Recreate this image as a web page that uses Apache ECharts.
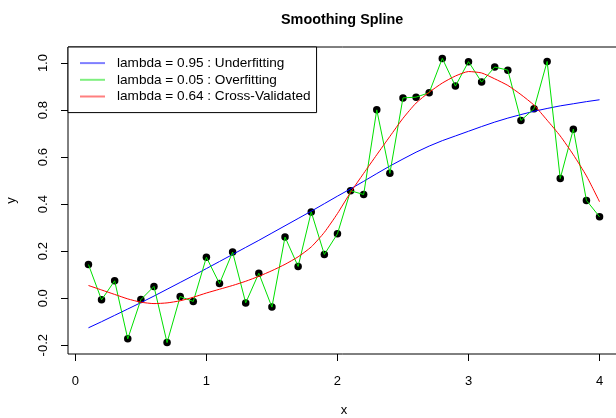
<!DOCTYPE html>
<html>
<head>
<meta charset="utf-8">
<script src="https://cdn.jsdelivr.net/npm/echarts@6/dist/echarts.min.js"></script>
<style>html,body{margin:0;padding:0;background:#fff;}#c{width:616px;height:418px;}</style>
</head>
<body>
<div id="c"></div>
<script>
const xs = [0.1,0.2,0.3,0.4,0.5,0.6,0.7,0.8,0.9,1.0,1.1,1.2,1.3,1.4,1.5,1.6,1.7,1.8,1.9,2.0,
            2.1,2.2,2.3,2.4,2.5,2.6,2.7,2.8,2.9,3.0,3.1,3.2,3.3,3.4,3.5,3.6,3.7,3.8,3.9,4.0];
const yObs = [0.143,-0.007,0.074,-0.173,-0.006,0.050,-0.189,0.007,-0.014,0.174,
              0.062,0.196,-0.020,0.106,-0.038,0.260,0.135,0.367,0.186,0.274,
              0.457,0.441,0.801,0.531,0.852,0.855,0.874,1.020,0.902,1.006,
              0.919,0.983,0.970,0.756,0.806,1.007,0.509,0.719,0.416,0.346];
const yUnder = [-0.126,-0.100,-0.073,-0.046,-0.019,0.009,0.038,0.067,0.096,0.126,
                0.156,0.186,0.216,0.246,0.277,0.308,0.339,0.370,0.402,0.434,
                0.465,0.497,0.530,0.562,0.592,0.621,0.647,0.670,0.690,0.710,
                0.730,0.749,0.766,0.781,0.795,0.807,0.818,0.827,0.836,0.844];
const yOver = yObs;
const yCV = [0.054,0.035,0.016,-0.003,-0.017,-0.023,-0.020,-0.011,0.004,0.022,
             0.038,0.054,0.072,0.093,0.117,0.144,0.176,0.218,0.280,0.360,
             0.450,0.531,0.610,0.688,0.765,0.830,0.876,0.915,0.945,0.964,
             0.958,0.933,0.905,0.866,0.821,0.757,0.690,0.610,0.520,0.410];
const xTicks = [0,1,2,3,4];
const yTicks = [-0.2,0,0.2,0.4,0.6,0.8,1.0];
const names = ['lambda = 0.95 : Underfitting','lambda = 0.05 : Overfitting','lambda = 0.64 : Cross-Validated'];
const title = 'Smoothing Spline';

const pairs = ys => xs.map((x,i)=>[x, ys[i]]);
const FONT = 'Liberation Sans, Arial, sans-serif';
const chart = echarts.init(document.getElementById('c'), null, {renderer:'canvas'});
chart.setOption({
  animation:false,
  backgroundColor:'#fff',
  title:{text:title, left:276, top:8, textStyle:{fontFamily:FONT, fontSize:14.4, fontWeight:'bold', color:'#000'}},
  grid:{left:68, top:47, width:552, height:307, show:true, borderColor:'#000', borderWidth:1,
        backgroundColor:'transparent', containLabel:false, outerBoundsMode:'none'},
  legend:{
    data:[
      {name:names[0], itemStyle:{color:'#7f7fff'}},
      {name:names[1], itemStyle:{color:'#7fef7f'}},
      {name:names[2], itemStyle:{color:'#ff7f7f'}}
    ],
    orient:'vertical', left:68, top:47, icon:'rect', itemWidth:25, itemHeight:2, itemGap:0.5,
    padding:[8,6,8,12], borderColor:'#000', borderWidth:1, backgroundColor:'#fff', borderRadius:0,
    textStyle:{fontFamily:FONT, fontSize:13.6, color:'#000', lineHeight:16.2, padding:[0,0,0,7]},
    selectedMode:false, z:10
  },
  xAxis:{
    type:'value', min:-0.056, max:4.156,
    name:'x', nameLocation:'middle', nameGap:50,
    nameTextStyle:{fontFamily:FONT, fontSize:13, color:'#000'},
    axisLine:{show:false, onZero:false},
    axisTick:{show:true, inside:false, length:7, lineStyle:{color:'#000'}, customValues:xTicks},
    axisLabel:{fontFamily:FONT, fontSize:13, color:'#000', margin:21, customValues:xTicks,
               formatter:v=>String(Math.round(v))},
    splitLine:{show:false}
  },
  yAxis:{
    type:'value', min:-0.2374, max:1.0684,
    name:'y', nameLocation:'middle', nameGap:50, nameRotate:90,
    nameTextStyle:{fontFamily:FONT, fontSize:13, color:'#000'},
    axisLine:{show:false, onZero:false},
    axisTick:{show:true, inside:false, length:7, lineStyle:{color:'#000'}, customValues:yTicks},
    axisLabel:{fontFamily:FONT, fontSize:13, color:'#000', margin:18, rotate:90, customValues:yTicks,
               formatter:v=>v.toFixed(1)},
    splitLine:{show:false}
  },
  series:[
    {type:'scatter', name:'points', data:pairs(yObs), symbol:'circle', symbolSize:7.5,
     itemStyle:{color:'#000', opacity:1}, z:2, silent:true},
    {type:'line', name:names[0], data:pairs(yUnder), showSymbol:false, symbol:'none',
     lineStyle:{color:'#0000ff', width:1}, itemStyle:{color:'#0000ff'}, z:3},
    {type:'line', name:names[1], data:pairs(yOver), showSymbol:false, symbol:'none',
     lineStyle:{color:'#00e000', width:1}, itemStyle:{color:'#00e000'}, z:3},
    {type:'line', name:names[2], data:pairs(yCV), showSymbol:false, symbol:'none', smooth:0.2,
     lineStyle:{color:'#ff0000', width:1}, itemStyle:{color:'#ff0000'}, z:3}
  ]
});
</script>
</body>
</html>
